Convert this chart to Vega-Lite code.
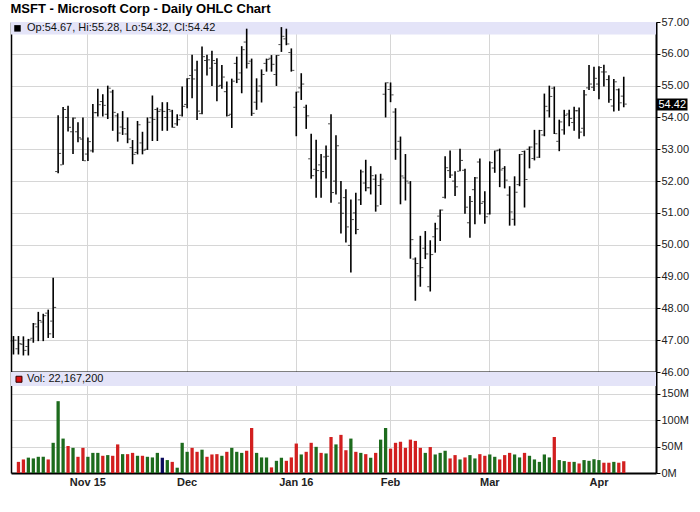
{
  "$schema": "https://vega.github.io/schema/vega-lite/v6.json",
  "background": "white",
  "padding": {"left": 10, "top": 3, "right": 2, "bottom": 2},
  "bounds": "flush",
  "title": {"text": "MSFT - Microsoft Corp - Daily OHLC Chart", "anchor": "start", "frame": "bounds", "font": "Liberation Sans", "fontSize": 13, "fontWeight": "bold", "color": "#000000", "offset": 0},
  "config": {"font": "Liberation Sans", "view": {"stroke": null}},
  "datasets": {
    "days": [
      {"d":"2015-10-12","o":46.98,"h":47.13,"l":46.55,"c":47.00,"v":null,"dir":"down"},
      {"d":"2015-10-13","o":46.73,"h":47.13,"l":46.55,"c":46.89,"v":21000000,"dir":"down"},
      {"d":"2015-10-14","o":46.87,"h":47.12,"l":46.52,"c":46.68,"v":25600000,"dir":"down"},
      {"d":"2015-10-15","o":46.80,"h":47.04,"l":46.52,"c":47.01,"v":29000000,"dir":"up"},
      {"d":"2015-10-16","o":47.06,"h":47.54,"l":46.92,"c":47.51,"v":27500000,"dir":"up"},
      {"d":"2015-10-19","o":47.42,"h":47.89,"l":46.97,"c":47.62,"v":30600000,"dir":"up"},
      {"d":"2015-10-20","o":47.57,"h":47.83,"l":46.97,"c":47.77,"v":30600000,"dir":"up"},
      {"d":"2015-10-21","o":47.85,"h":47.96,"l":47.07,"c":47.20,"v":25600000,"dir":"down"},
      {"d":"2015-10-22","o":47.60,"h":48.96,"l":47.07,"c":48.03,"v":57000000,"dir":"up"},
      {"d":"2015-10-23","o":52.30,"h":54.07,"l":52.25,"c":52.87,"v":135600000,"dir":"up"},
      {"d":"2015-10-26","o":52.51,"h":54.33,"l":52.51,"c":54.25,"v":65000000,"dir":"up"},
      {"d":"2015-10-27","o":54.00,"h":54.37,"l":53.56,"c":53.69,"v":51000000,"dir":"down"},
      {"d":"2015-10-28","o":53.55,"h":54.00,"l":52.85,"c":53.98,"v":47500000,"dir":"up"},
      {"d":"2015-10-29","o":53.55,"h":53.85,"l":53.22,"c":53.36,"v":30600000,"dir":"down"},
      {"d":"2015-10-30","o":53.32,"h":54.00,"l":52.63,"c":52.64,"v":47500000,"dir":"down"},
      {"d":"2015-11-02","o":52.85,"h":53.37,"l":52.63,"c":53.24,"v":30600000,"dir":"up"},
      {"d":"2015-11-03","o":52.95,"h":54.42,"l":52.90,"c":54.15,"v":38000000,"dir":"up"},
      {"d":"2015-11-04","o":54.15,"h":54.90,"l":54.03,"c":54.40,"v":38000000,"dir":"up"},
      {"d":"2015-11-05","o":54.50,"h":54.73,"l":54.03,"c":54.38,"v":32500000,"dir":"down"},
      {"d":"2015-11-06","o":54.10,"h":55.00,"l":53.95,"c":54.92,"v":33800000,"dir":"up"},
      {"d":"2015-11-09","o":54.80,"h":54.87,"l":53.58,"c":54.16,"v":32500000,"dir":"down"},
      {"d":"2015-11-10","o":54.05,"h":54.13,"l":53.24,"c":53.51,"v":54000000,"dir":"down"},
      {"d":"2015-11-11","o":53.70,"h":54.20,"l":53.45,"c":53.65,"v":35600000,"dir":"up"},
      {"d":"2015-11-12","o":53.48,"h":54.00,"l":53.19,"c":53.32,"v":35600000,"dir":"down"},
      {"d":"2015-11-13","o":53.05,"h":53.29,"l":52.53,"c":52.84,"v":38000000,"dir":"down"},
      {"d":"2015-11-16","o":52.90,"h":53.89,"l":52.84,"c":53.77,"v":32500000,"dir":"up"},
      {"d":"2015-11-17","o":53.20,"h":53.55,"l":52.84,"c":52.97,"v":32500000,"dir":"down"},
      {"d":"2015-11-18","o":53.00,"h":54.00,"l":52.98,"c":53.85,"v":30600000,"dir":"up"},
      {"d":"2015-11-19","o":53.99,"h":54.69,"l":53.26,"c":53.94,"v":29400000,"dir":"up"},
      {"d":"2015-11-20","o":54.25,"h":54.31,"l":53.26,"c":54.19,"v":38000000,"dir":"up"},
      {"d":"2015-11-23","o":54.24,"h":54.48,"l":53.58,"c":54.19,"v":28800000,"dir":"unch"},
      {"d":"2015-11-24","o":54.00,"h":54.48,"l":53.58,"c":54.25,"v":24400000,"dir":"up"},
      {"d":"2015-11-25","o":54.20,"h":54.24,"l":53.68,"c":53.69,"v":21000000,"dir":"down"},
      {"d":"2015-11-27","o":53.80,"h":54.10,"l":53.74,"c":53.93,"v":10000000,"dir":"up"},
      {"d":"2015-11-30","o":54.07,"h":54.97,"l":54.03,"c":54.35,"v":57000000,"dir":"up"},
      {"d":"2015-12-01","o":54.41,"h":55.23,"l":54.29,"c":55.22,"v":40000000,"dir":"up"},
      {"d":"2015-12-02","o":55.32,"h":55.97,"l":54.60,"c":55.21,"v":47500000,"dir":"down"},
      {"d":"2015-12-03","o":55.49,"h":55.78,"l":53.92,"c":54.20,"v":40000000,"dir":"down"},
      {"d":"2015-12-04","o":54.12,"h":56.23,"l":54.10,"c":55.91,"v":44000000,"dir":"up"},
      {"d":"2015-12-07","o":55.79,"h":55.97,"l":55.32,"c":55.81,"v":30600000,"dir":"down"},
      {"d":"2015-12-08","o":55.55,"h":56.10,"l":54.99,"c":55.79,"v":35000000,"dir":"down"},
      {"d":"2015-12-09","o":55.70,"h":55.86,"l":54.51,"c":54.98,"v":35600000,"dir":"down"},
      {"d":"2015-12-10","o":55.01,"h":55.65,"l":54.90,"c":55.27,"v":32500000,"dir":"up"},
      {"d":"2015-12-11","o":54.81,"h":55.13,"l":54.03,"c":54.06,"v":40000000,"dir":"down"},
      {"d":"2015-12-14","o":54.10,"h":55.22,"l":53.67,"c":55.14,"v":47500000,"dir":"up"},
      {"d":"2015-12-15","o":55.70,"h":55.91,"l":55.08,"c":55.20,"v":40000000,"dir":"up"},
      {"d":"2015-12-16","o":55.40,"h":56.24,"l":54.76,"c":56.13,"v":38000000,"dir":"up"},
      {"d":"2015-12-17","o":56.37,"h":56.79,"l":55.54,"c":55.70,"v":42000000,"dir":"down"},
      {"d":"2015-12-18","o":55.77,"h":55.85,"l":54.05,"c":54.13,"v":85000000,"dir":"down"},
      {"d":"2015-12-21","o":54.48,"h":55.23,"l":54.24,"c":54.83,"v":38000000,"dir":"up"},
      {"d":"2015-12-22","o":54.99,"h":55.51,"l":54.47,"c":55.35,"v":29400000,"dir":"up"},
      {"d":"2015-12-23","o":55.70,"h":55.85,"l":55.44,"c":55.82,"v":29400000,"dir":"up"},
      {"d":"2015-12-24","o":55.86,"h":55.96,"l":55.44,"c":55.67,"v":10600000,"dir":"down"},
      {"d":"2015-12-28","o":55.35,"h":55.96,"l":54.99,"c":55.95,"v":23000000,"dir":"up"},
      {"d":"2015-12-29","o":56.29,"h":56.84,"l":56.06,"c":56.55,"v":28800000,"dir":"up"},
      {"d":"2015-12-30","o":56.47,"h":56.79,"l":56.27,"c":56.31,"v":23000000,"dir":"down"},
      {"d":"2015-12-31","o":56.04,"h":56.17,"l":55.44,"c":55.48,"v":29400000,"dir":"down"},
      {"d":"2016-01-04","o":54.32,"h":54.81,"l":53.41,"c":54.80,"v":55600000,"dir":"down"},
      {"d":"2016-01-05","o":54.93,"h":55.39,"l":54.55,"c":55.05,"v":35000000,"dir":"up"},
      {"d":"2016-01-06","o":54.32,"h":54.40,"l":53.64,"c":54.05,"v":40000000,"dir":"down"},
      {"d":"2016-01-07","o":52.70,"h":53.49,"l":52.07,"c":52.17,"v":57000000,"dir":"down"},
      {"d":"2016-01-08","o":52.37,"h":53.30,"l":51.48,"c":52.33,"v":49400000,"dir":"up"},
      {"d":"2016-01-11","o":52.51,"h":52.85,"l":51.48,"c":52.30,"v":38000000,"dir":"down"},
      {"d":"2016-01-12","o":52.76,"h":53.12,"l":52.08,"c":52.78,"v":36900000,"dir":"up"},
      {"d":"2016-01-13","o":53.80,"h":54.10,"l":51.32,"c":51.64,"v":68000000,"dir":"down"},
      {"d":"2016-01-14","o":52.00,"h":53.44,"l":51.58,"c":53.11,"v":54000000,"dir":"up"},
      {"d":"2016-01-15","o":51.31,"h":52.00,"l":50.35,"c":50.99,"v":72000000,"dir":"down"},
      {"d":"2016-01-19","o":51.48,"h":51.74,"l":50.07,"c":50.56,"v":43000000,"dir":"down"},
      {"d":"2016-01-20","o":49.98,"h":51.42,"l":49.13,"c":50.79,"v":65000000,"dir":"up"},
      {"d":"2016-01-21","o":51.00,"h":51.63,"l":50.33,"c":50.48,"v":40000000,"dir":"down"},
      {"d":"2016-01-22","o":51.41,"h":52.36,"l":51.25,"c":52.29,"v":38000000,"dir":"up"},
      {"d":"2016-01-25","o":51.94,"h":52.67,"l":51.68,"c":51.79,"v":35600000,"dir":"down"},
      {"d":"2016-01-26","o":51.79,"h":52.47,"l":51.58,"c":52.17,"v":28800000,"dir":"up"},
      {"d":"2016-01-27","o":52.06,"h":52.21,"l":51.04,"c":51.22,"v":38000000,"dir":"down"},
      {"d":"2016-01-28","o":51.86,"h":52.23,"l":51.25,"c":52.06,"v":63000000,"dir":"up"},
      {"d":"2016-01-29","o":54.73,"h":55.10,"l":54.00,"c":55.09,"v":85000000,"dir":"up"},
      {"d":"2016-02-01","o":54.88,"h":55.10,"l":54.48,"c":54.71,"v":46000000,"dir":"down"},
      {"d":"2016-02-02","o":54.17,"h":54.29,"l":52.67,"c":53.00,"v":57000000,"dir":"down"},
      {"d":"2016-02-03","o":53.25,"h":53.40,"l":51.27,"c":52.16,"v":59000000,"dir":"down"},
      {"d":"2016-02-04","o":52.10,"h":52.85,"l":51.39,"c":52.00,"v":47500000,"dir":"down"},
      {"d":"2016-02-05","o":51.94,"h":52.00,"l":49.56,"c":50.16,"v":63000000,"dir":"down"},
      {"d":"2016-02-08","o":49.55,"h":49.60,"l":48.24,"c":49.41,"v":60600000,"dir":"down"},
      {"d":"2016-02-09","o":49.02,"h":50.28,"l":48.68,"c":49.28,"v":47500000,"dir":"down"},
      {"d":"2016-02-10","o":49.89,"h":50.43,"l":49.55,"c":49.71,"v":38000000,"dir":"up"},
      {"d":"2016-02-11","o":48.68,"h":50.14,"l":48.53,"c":49.69,"v":49000000,"dir":"down"},
      {"d":"2016-02-12","o":50.25,"h":50.69,"l":49.75,"c":50.50,"v":35000000,"dir":"up"},
      {"d":"2016-02-16","o":50.90,"h":51.11,"l":50.12,"c":51.09,"v":38000000,"dir":"up"},
      {"d":"2016-02-17","o":51.49,"h":52.78,"l":51.45,"c":52.42,"v":42000000,"dir":"up"},
      {"d":"2016-02-18","o":52.33,"h":52.96,"l":52.10,"c":52.19,"v":27500000,"dir":"down"},
      {"d":"2016-02-19","o":52.00,"h":52.31,"l":51.53,"c":51.82,"v":33800000,"dir":"down"},
      {"d":"2016-02-22","o":52.31,"h":53.02,"l":52.31,"c":52.65,"v":25600000,"dir":"up"},
      {"d":"2016-02-23","o":52.34,"h":52.39,"l":50.97,"c":51.18,"v":29400000,"dir":"down"},
      {"d":"2016-02-24","o":50.69,"h":51.53,"l":50.22,"c":51.36,"v":33800000,"dir":"up"},
      {"d":"2016-02-25","o":51.73,"h":52.13,"l":50.64,"c":52.10,"v":27500000,"dir":"up"},
      {"d":"2016-02-26","o":52.60,"h":52.71,"l":50.95,"c":51.30,"v":35600000,"dir":"down"},
      {"d":"2016-02-29","o":51.35,"h":51.68,"l":50.66,"c":50.88,"v":32500000,"dir":"down"},
      {"d":"2016-03-01","o":50.97,"h":52.62,"l":50.95,"c":52.58,"v":35000000,"dir":"up"},
      {"d":"2016-03-02","o":52.41,"h":52.96,"l":52.26,"c":52.95,"v":30600000,"dir":"up"},
      {"d":"2016-03-03","o":52.97,"h":53.02,"l":51.81,"c":52.35,"v":25600000,"dir":"down"},
      {"d":"2016-03-04","o":52.40,"h":52.47,"l":51.77,"c":52.03,"v":33800000,"dir":"down"},
      {"d":"2016-03-07","o":51.56,"h":51.84,"l":50.60,"c":51.03,"v":38000000,"dir":"down"},
      {"d":"2016-03-08","o":50.80,"h":52.15,"l":50.60,"c":51.65,"v":35000000,"dir":"up"},
      {"d":"2016-03-09","o":51.89,"h":52.85,"l":51.84,"c":52.84,"v":29400000,"dir":"up"},
      {"d":"2016-03-10","o":52.93,"h":52.96,"l":51.17,"c":52.05,"v":38000000,"dir":"down"},
      {"d":"2016-03-11","o":53.00,"h":53.09,"l":52.40,"c":53.07,"v":32500000,"dir":"up"},
      {"d":"2016-03-14","o":52.71,"h":53.61,"l":52.65,"c":53.17,"v":25600000,"dir":"up"},
      {"d":"2016-03-15","o":52.75,"h":53.61,"l":52.73,"c":53.59,"v":21000000,"dir":"up"},
      {"d":"2016-03-16","o":53.45,"h":54.75,"l":53.41,"c":54.35,"v":35000000,"dir":"up"},
      {"d":"2016-03-17","o":54.21,"h":55.00,"l":54.00,"c":54.66,"v":29400000,"dir":"up"},
      {"d":"2016-03-18","o":54.92,"h":54.97,"l":53.48,"c":53.49,"v":68000000,"dir":"down"},
      {"d":"2016-03-21","o":53.25,"h":53.93,"l":52.94,"c":53.86,"v":24400000,"dir":"up"},
      {"d":"2016-03-22","o":53.61,"h":54.24,"l":53.46,"c":54.07,"v":22500000,"dir":"up"},
      {"d":"2016-03-23","o":54.11,"h":54.24,"l":53.72,"c":53.97,"v":21000000,"dir":"down"},
      {"d":"2016-03-24","o":53.84,"h":54.34,"l":53.58,"c":54.21,"v":21000000,"dir":"up"},
      {"d":"2016-03-28","o":54.21,"h":54.31,"l":53.33,"c":53.54,"v":18000000,"dir":"down"},
      {"d":"2016-03-29","o":53.66,"h":54.86,"l":53.41,"c":54.71,"v":24400000,"dir":"up"},
      {"d":"2016-03-30","o":54.93,"h":55.65,"l":54.86,"c":55.05,"v":23000000,"dir":"up"},
      {"d":"2016-03-31","o":54.95,"h":55.59,"l":54.83,"c":55.23,"v":26000000,"dir":"up"},
      {"d":"2016-04-01","o":55.05,"h":55.61,"l":54.57,"c":55.57,"v":24400000,"dir":"up"},
      {"d":"2016-04-04","o":55.43,"h":55.66,"l":54.97,"c":55.43,"v":19400000,"dir":"down"},
      {"d":"2016-04-05","o":55.19,"h":55.33,"l":54.46,"c":54.56,"v":19400000,"dir":"down"},
      {"d":"2016-04-06","o":54.36,"h":55.21,"l":54.19,"c":55.12,"v":21000000,"dir":"up"},
      {"d":"2016-04-07","o":54.87,"h":54.91,"l":54.21,"c":54.46,"v":19400000,"dir":"down"},
      {"d":"2016-04-08","o":54.67,"h":55.28,"l":54.32,"c":54.42,"v":22167200,"dir":"down"}
    ],
    "one": [{}]
  },
  "spacing": 0,
  "vconcat": [
    {
      "width": 645,
      "height": 350,
      "data": {"name": "days"},
      "resolve": {"axis": {"y": "independent"}},
      "layer": [
        {
          "data": {"name": "one"},
          "mark": {"type": "rect", "color": "#e4e4f8"},
          "encoding": {
            "y": {"datum": 57, "type": "quantitative", "axis": null},
            "y2": {"datum": 56.61}
          }
        },
        {
          "mark": {"type": "rule", "color": "#000000", "strokeWidth": 1.6},
          "encoding": {
            "x": {"field": "d", "type": "ordinal",
              "scale": {"paddingInner": 0, "paddingOuter": 0, "domain": ["2015-10-12","2015-10-13","2015-10-14","2015-10-15","2015-10-16","2015-10-19","2015-10-20","2015-10-21","2015-10-22","2015-10-23","2015-10-26","2015-10-27","2015-10-28","2015-10-29","2015-10-30","2015-11-02","2015-11-03","2015-11-04","2015-11-05","2015-11-06","2015-11-09","2015-11-10","2015-11-11","2015-11-12","2015-11-13","2015-11-16","2015-11-17","2015-11-18","2015-11-19","2015-11-20","2015-11-23","2015-11-24","2015-11-25","2015-11-27","2015-11-30","2015-12-01","2015-12-02","2015-12-03","2015-12-04","2015-12-07","2015-12-08","2015-12-09","2015-12-10","2015-12-11","2015-12-14","2015-12-15","2015-12-16","2015-12-17","2015-12-18","2015-12-21","2015-12-22","2015-12-23","2015-12-24","2015-12-28","2015-12-29","2015-12-30","2015-12-31","2016-01-04","2016-01-05","2016-01-06","2016-01-07","2016-01-08","2016-01-11","2016-01-12","2016-01-13","2016-01-14","2016-01-15","2016-01-19","2016-01-20","2016-01-21","2016-01-22","2016-01-25","2016-01-26","2016-01-27","2016-01-28","2016-01-29","2016-02-01","2016-02-02","2016-02-03","2016-02-04","2016-02-05","2016-02-08","2016-02-09","2016-02-10","2016-02-11","2016-02-12","2016-02-16","2016-02-17","2016-02-18","2016-02-19","2016-02-22","2016-02-23","2016-02-24","2016-02-25","2016-02-26","2016-02-29","2016-03-01","2016-03-02","2016-03-03","2016-03-04","2016-03-07","2016-03-08","2016-03-09","2016-03-10","2016-03-11","2016-03-14","2016-03-15","2016-03-16","2016-03-17","2016-03-18","2016-03-21","2016-03-22","2016-03-23","2016-03-24","2016-03-28","2016-03-29","2016-03-30","2016-03-31","2016-04-01","2016-04-04","2016-04-05","2016-04-06","2016-04-07","2016-04-08","2016-04-11","2016-04-12","2016-04-13","2016-04-14","2016-04-15","2016-04-18"]},
              "axis": {"values": ["2015-11-02","2015-12-01","2016-01-04","2016-02-01","2016-03-01","2016-04-01"], "bandPosition": 0.5, "labels": false, "ticks": false, "tickSize": 0, "labelPadding": 0, "minExtent": 0, "maxExtent": 0, "title": null, "grid": true, "gridColor": "#d6d6d6", "gridWidth": 1, "domain": true, "domainColor": "#000000", "domainWidth": 2}
            },
            "y": {"field": "l", "type": "quantitative",
              "scale": {"domain": [46, 57], "nice": false, "zero": false},
              "axis": {"orient": "right", "values": [46,47,48,49,50,51,52,53,54,54.42,55,56,57], "format": ".2f", "title": null, "labelOverlap": false,
                "grid": true, "gridColor": "#d6d6d6", "gridWidth": 1,
                "gridOpacity": {"condition": {"test": "datum.value == 54.42", "value": 0}, "value": 1},
                "domain": true, "domainColor": "#000000", "domainWidth": 2,
                "ticks": true,
                "tickColor": "#000000",
                "tickSize": {"condition": {"test": "datum.value == 54.42", "value": 31}, "value": 4},
                "tickWidth": {"condition": {"test": "datum.value == 54.42", "value": 12}, "value": 1},
                "labelPadding": {"condition": {"test": "datum.value == 54.42", "value": -29}, "value": 1},
                "labelColor": {"condition": {"test": "datum.value == 54.42", "value": "#ffffff"}, "value": "#222222"},
                "labelFont": "Liberation Sans", "labelFontSize": 11}
            },
            "y2": {"field": "h"}
          }
        },
        {
          "mark": {"type": "tick", "color": "#000000", "orient": "horizontal", "thickness": 1, "size": 2.2, "xOffset": -1.9},
          "encoding": {
            "x": {"field": "d", "type": "ordinal"},
            "y": {"field": "o", "type": "quantitative",
              "axis": {"orient": "left", "labels": false, "ticks": false, "grid": false, "title": null, "domain": true, "domainColor": "#000000", "domainWidth": 1.5}}
          }
        },
        {
          "mark": {"type": "tick", "color": "#000000", "orient": "horizontal", "thickness": 1, "size": 2.2, "xOffset": 1.9},
          "encoding": {
            "x": {"field": "d", "type": "ordinal"},
            "y": {"field": "c", "type": "quantitative", "axis": null}
          }
        },
        {
          "data": {"name": "one"},
          "mark": {"type": "point", "shape": "square", "filled": true, "color": "#000000", "size": 42, "opacity": 1, "xOffset": 4},
          "encoding": {
            "x": {"datum": "2015-10-12", "type": "ordinal"},
            "y": {"datum": 56.8, "type": "quantitative", "axis": null}
          }
        },
        {
          "data": {"name": "one"},
          "mark": {"type": "text", "align": "left", "baseline": "middle", "dx": 13.5, "font": "Liberation Sans", "fontSize": 11, "color": "#111111", "text": "Op:54.67, Hi:55.28, Lo:54.32, Cl:54.42"},
          "encoding": {
            "x": {"datum": "2015-10-12", "type": "ordinal"},
            "y": {"datum": 56.8, "type": "quantitative", "axis": null}
          }
        }
      ]
    },
    {
      "width": 645,
      "height": 101,
      "data": {"name": "days"},
      "resolve": {"axis": {"y": "independent"}},
      "layer": [
        {
          "data": {"name": "one"},
          "mark": {"type": "rect", "color": "#e4e4f8"},
          "encoding": {
            "y": {"datum": 190700000, "type": "quantitative", "axis": null},
            "y2": {"datum": 164500000}
          }
        },
        {
          "mark": {"type": "bar", "width": {"band": 0.66}},
          "encoding": {
            "x": {"field": "d", "type": "ordinal",
              "scale": {"paddingInner": 0, "paddingOuter": 0, "domain": ["2015-10-12","2015-10-13","2015-10-14","2015-10-15","2015-10-16","2015-10-19","2015-10-20","2015-10-21","2015-10-22","2015-10-23","2015-10-26","2015-10-27","2015-10-28","2015-10-29","2015-10-30","2015-11-02","2015-11-03","2015-11-04","2015-11-05","2015-11-06","2015-11-09","2015-11-10","2015-11-11","2015-11-12","2015-11-13","2015-11-16","2015-11-17","2015-11-18","2015-11-19","2015-11-20","2015-11-23","2015-11-24","2015-11-25","2015-11-27","2015-11-30","2015-12-01","2015-12-02","2015-12-03","2015-12-04","2015-12-07","2015-12-08","2015-12-09","2015-12-10","2015-12-11","2015-12-14","2015-12-15","2015-12-16","2015-12-17","2015-12-18","2015-12-21","2015-12-22","2015-12-23","2015-12-24","2015-12-28","2015-12-29","2015-12-30","2015-12-31","2016-01-04","2016-01-05","2016-01-06","2016-01-07","2016-01-08","2016-01-11","2016-01-12","2016-01-13","2016-01-14","2016-01-15","2016-01-19","2016-01-20","2016-01-21","2016-01-22","2016-01-25","2016-01-26","2016-01-27","2016-01-28","2016-01-29","2016-02-01","2016-02-02","2016-02-03","2016-02-04","2016-02-05","2016-02-08","2016-02-09","2016-02-10","2016-02-11","2016-02-12","2016-02-16","2016-02-17","2016-02-18","2016-02-19","2016-02-22","2016-02-23","2016-02-24","2016-02-25","2016-02-26","2016-02-29","2016-03-01","2016-03-02","2016-03-03","2016-03-04","2016-03-07","2016-03-08","2016-03-09","2016-03-10","2016-03-11","2016-03-14","2016-03-15","2016-03-16","2016-03-17","2016-03-18","2016-03-21","2016-03-22","2016-03-23","2016-03-24","2016-03-28","2016-03-29","2016-03-30","2016-03-31","2016-04-01","2016-04-04","2016-04-05","2016-04-06","2016-04-07","2016-04-08","2016-04-11","2016-04-12","2016-04-13","2016-04-14","2016-04-15","2016-04-18"]},
              "axis": {"values": ["2015-11-02","2015-12-01","2016-01-04","2016-02-01","2016-03-01","2016-04-01"], "bandPosition": 0.5,
                "labelExpr": "datum.value == '2015-11-02' ? 'Nov 15' : datum.value == '2015-12-01' ? 'Dec' : datum.value == '2016-01-04' ? 'Jan 16' : datum.value == '2016-02-01' ? 'Feb' : datum.value == '2016-03-01' ? 'Mar' : 'Apr'",
                "labelAngle": 0, "labelFont": "Liberation Sans", "labelFontSize": 11, "labelFontWeight": "bold", "labelColor": "#222222", "labelPadding": 3,
                "ticks": false, "title": null, "grid": true, "gridColor": "#d6d6d6", "gridWidth": 1, "domain": true, "domainColor": "#000000", "domainWidth": 2}
            },
            "y": {"field": "v", "type": "quantitative",
              "scale": {"domain": [0, 190700000], "nice": false, "zero": true},
              "axis": {"orient": "right", "values": [0, 50000000, 100000000, 150000000], "labelExpr": "format(datum.value / 1000000, 'd') + 'M'", "title": null,
                "grid": true, "gridColor": "#d6d6d6", "gridWidth": 1,
                "domain": true, "domainColor": "#000000", "domainWidth": 2,
                "ticks": true, "tickColor": "#000000", "tickSize": 4, "labelPadding": 1,
                "labelColor": "#222222", "labelFont": "Liberation Sans", "labelFontSize": 11}
            },
            "color": {"field": "dir", "type": "nominal", "scale": {"domain": ["up", "down", "unch"], "range": ["#1d6b1d", "#d21f1f", "#0a0a5c"]}, "legend": null}
          }
        },
        {
          "mark": {"type": "tick", "opacity": 0},
          "encoding": {
            "x": {"field": "d", "type": "ordinal"},
            "y": {"field": "v", "type": "quantitative",
              "axis": {"orient": "left", "labels": false, "ticks": false, "grid": false, "title": null, "domain": true, "domainColor": "#000000", "domainWidth": 1.5}}
          }
        },
        {
          "data": {"name": "one"},
          "mark": {"type": "point", "shape": "square", "filled": true, "color": "#dd1111", "stroke": "#330000", "strokeWidth": 1, "size": 36, "opacity": 1, "xOffset": 5.5},
          "encoding": {
            "x": {"datum": "2015-10-12", "type": "ordinal"},
            "y": {"datum": 177000000, "type": "quantitative", "axis": null}
          }
        },
        {
          "data": {"name": "one"},
          "mark": {"type": "text", "align": "left", "baseline": "middle", "dx": 13.5, "font": "Liberation Sans", "fontSize": 11, "color": "#111111", "text": "Vol: 22,167,200"},
          "encoding": {
            "x": {"datum": "2015-10-12", "type": "ordinal"},
            "y": {"datum": 177000000, "type": "quantitative", "axis": null}
          }
        }
      ]
    }
  ]
}
